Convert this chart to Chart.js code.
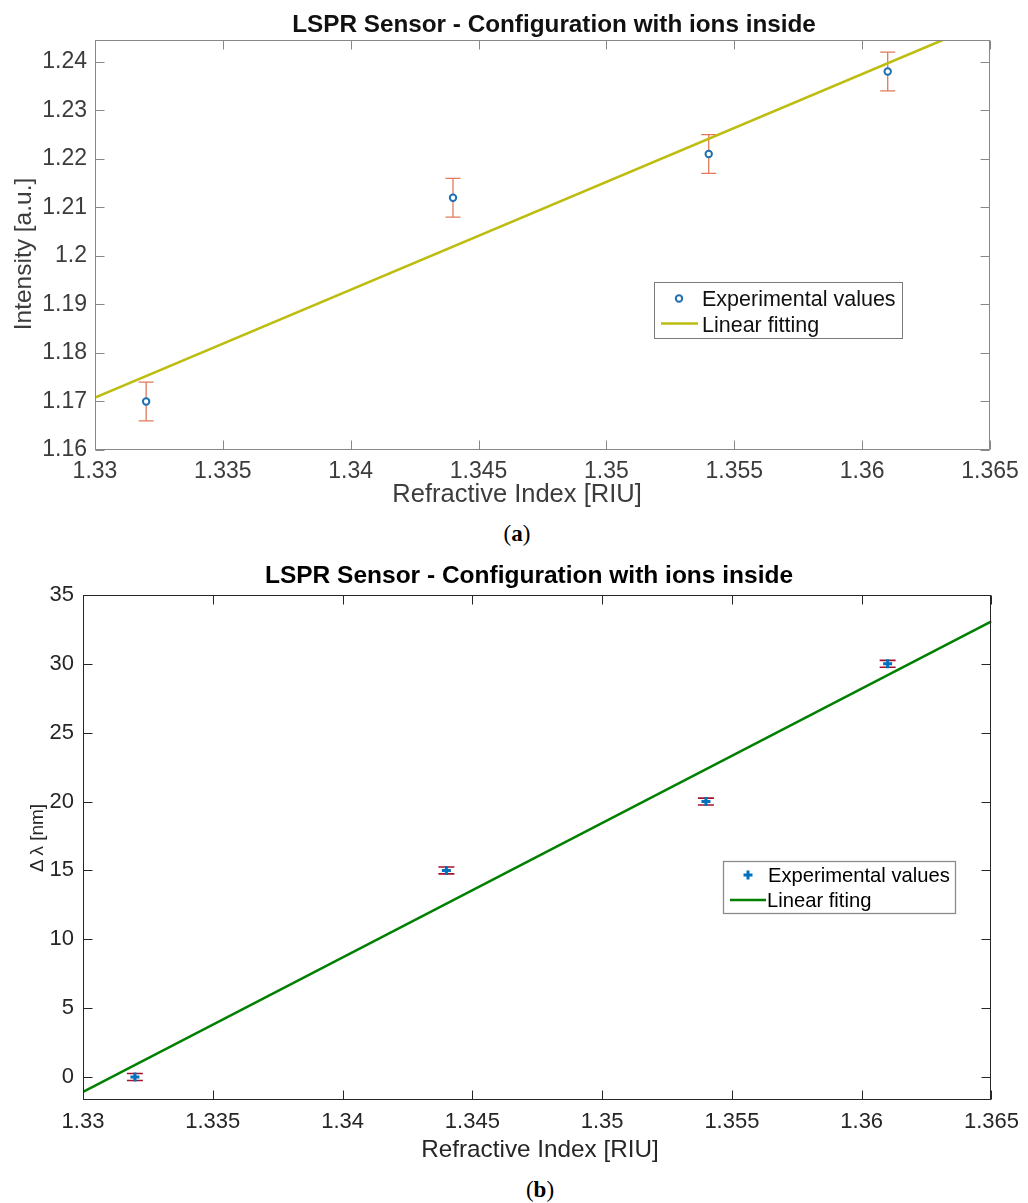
<!DOCTYPE html>
<html><head><meta charset="utf-8">
<script src="https://cdn.jsdelivr.net/npm/chart.js@4.4.0/dist/chart.umd.min.js"></script>
<style>
html,body{margin:0;padding:0;background:#fff;}
body{width:1028px;height:1203px;position:relative;overflow:hidden;}
canvas{position:absolute;left:0;}
#ca{top:0;}
#cb{top:550px;}
.cap{position:absolute;font-family:"Liberation Serif","DejaVu Serif",serif;font-size:23px;line-height:23px;color:#000;transform:translateX(-50%);white-space:nowrap;}
</style></head>
<body>
<canvas id="ca" width="1028" height="515"></canvas>
<canvas id="cb" width="1028" height="615"></canvas>
<div class="cap" style="left:517px;top:522px">(<b>a</b>)</div>
<div class="cap" style="left:540px;top:1178px">(<b>b</b>)</div>
<script>
// ---------- data ----------
const refractiveIndex = [1.332, 1.344, 1.354, 1.361];
const intensityValues = [1.170, 1.212, 1.221, 1.238];
const intensityErrors = [0.004, 0.004, 0.004, 0.004];
const intensityFitX = [1.33, 1.365];
const intensityFitY = [1.1708, 1.2486];
const shiftValues = [0, 15, 20, 30];
const shiftErrors = [0.25, 0.25, 0.25, 0.25];
const shiftFitX = [1.33, 1.365];
const shiftFitY = [-1.08, 33.09];
const xTickValues = [1.33, 1.335, 1.34, 1.345, 1.35, 1.355, 1.36, 1.365];
const xTickLabels = ['1.33', '1.335', '1.34', '1.345', '1.35', '1.355', '1.36', '1.365'];
const intensityTickValues = [1.16, 1.17, 1.18, 1.19, 1.20, 1.21, 1.22, 1.23, 1.24];
const intensityTickLabels = ['1.16', '1.17', '1.18', '1.19', '1.2', '1.21', '1.22', '1.23', '1.24'];
const shiftTickValues = [0, 5, 10, 15, 20, 25, 30, 35];
const shiftTickLabels = ['0', '5', '10', '15', '20', '25', '30', '35'];
const titleText = 'LSPR Sensor - Configuration with ions inside';
const xLabelText = 'Refractive Index [RIU]';

Chart.defaults.font.family = "'Liberation Sans', Arial, sans-serif";

// ---------- plugins ----------
const errorBarPlugin = {
  id: 'errorBars',
  beforeDatasetsDraw(chart, args, o) {
    const {ctx, scales: {x, y}} = chart;
    const ds = chart.data.datasets[0];
    ctx.save();
    ctx.strokeStyle = o.color; ctx.lineWidth = o.width;
    ds.data.forEach((p, i) => {
      const e = ds.errors[i];
      const px = x.getPixelForValue(p.x);
      const y1 = y.getPixelForValue(p.y - e);
      const y2 = y.getPixelForValue(p.y + e);
      ctx.beginPath();
      ctx.moveTo(px, y1); ctx.lineTo(px, y2);
      ctx.moveTo(px - o.cap, y1); ctx.lineTo(px + o.cap, y1);
      ctx.moveTo(px - o.cap, y2); ctx.lineTo(px + o.cap, y2);
      ctx.stroke();
    });
    ctx.restore();
  }
};

const framePlugin = {
  id: 'frame',
  afterDatasetsDraw(chart, args, o) {
    const {ctx, chartArea: a, scales: {x, y}} = chart;
    ctx.save();
    ctx.strokeStyle = o.color; ctx.lineWidth = o.width;
    const L = Math.round(a.left) + 0.5, R = Math.round(a.right) - 0.5;
    const T = Math.round(a.top) + 0.5, B = Math.round(a.bottom) - 0.5;
    ctx.strokeRect(L, T, R - L, B - T);
    ctx.beginPath();
    x.ticks.forEach(t => {
      const px = Math.round(x.getPixelForValue(t.value)) + 0.5;
      ctx.moveTo(px, B); ctx.lineTo(px, B - o.len);
      ctx.moveTo(px, T); ctx.lineTo(px, T + o.len);
    });
    y.ticks.forEach(t => {
      const py = Math.round(y.getPixelForValue(t.value)) + 0.5;
      ctx.moveTo(L, py); ctx.lineTo(L + o.len, py);
      ctx.moveTo(R, py); ctx.lineTo(R - o.len, py);
    });
    ctx.stroke();
    ctx.restore();
  }
};

const textPlugin = {
  id: 'texts',
  afterDraw(chart, args, o) {
    const ctx = chart.ctx;
    o.items.forEach(it => {
      ctx.save();
      ctx.font = it.font; ctx.fillStyle = it.color;
      ctx.textAlign = it.align || 'center'; ctx.textBaseline = 'alphabetic';
      ctx.translate(it.x, it.y);
      if (it.rotate) ctx.rotate(it.rotate);
      ctx.fillText(it.text, 0, 0);
      ctx.restore();
    });
  }
};

const boxLegendPlugin = {
  id: 'boxLegend',
  afterDraw(chart, args, o) {
    const ctx = chart.ctx;
    const ds = chart.data.datasets;
    ctx.save();
    ctx.fillStyle = '#fff';
    ctx.fillRect(o.x, o.y, o.w, o.h);
    ctx.strokeStyle = o.border; ctx.lineWidth = o.borderWidth;
    ctx.strokeRect(o.x + 0.5, o.y + 0.5, o.w, o.h);
    const p = ds[0];
    ctx.strokeStyle = p.borderColor; ctx.fillStyle = p.backgroundColor; ctx.lineWidth = p.borderWidth;
    ctx.beginPath();
    if (p.pointStyle === 'circle') {
      ctx.arc(o.markerX, o.row1, p.pointRadius, 0, Math.PI * 2);
      ctx.fill(); ctx.stroke();
    } else {
      const r = p.pointRadius;
      ctx.moveTo(o.markerX - r, o.row1); ctx.lineTo(o.markerX + r, o.row1);
      ctx.moveTo(o.markerX, o.row1 - r); ctx.lineTo(o.markerX, o.row1 + r);
      ctx.stroke();
    }
    const l = ds[1];
    ctx.strokeStyle = l.borderColor; ctx.lineWidth = l.borderWidth;
    ctx.beginPath(); ctx.moveTo(o.lineX1, o.row2); ctx.lineTo(o.lineX2, o.row2); ctx.stroke();
    ctx.fillStyle = o.color; ctx.font = o.font; ctx.textAlign = 'left'; ctx.textBaseline = 'alphabetic';
    ctx.fillText(p.label, o.textX, o.base1);
    ctx.fillText(l.label, o.textX2, o.base2);
    ctx.restore();
  }
};

function buildChart(id, cfg) {
  const pts = cfg.xs.map((x, i) => ({x: x, y: cfg.ys[i]}));
  const fit = cfg.fitX.map((x, i) => ({x: x, y: cfg.fitY[i]}));
  return new Chart(document.getElementById(id), {
    type: 'scatter',
    data: {
      datasets: [
        Object.assign({label: 'Experimental values', data: pts, errors: cfg.errs, showLine: false}, cfg.pointStyle),
        {label: cfg.fitLabel, data: fit, showLine: true, pointRadius: 0, borderColor: cfg.fitColor,
         backgroundColor: cfg.fitColor, borderWidth: cfg.fitWidth, clip: 0, tension: 0}
      ]
    },
    options: {
      responsive: false, animation: false, events: [],
      layout: {padding: cfg.padding},
      scales: {
        x: {
          type: 'linear', min: cfg.xMin, max: cfg.xMax,
          grid: {display: false, drawTicks: false, tickLength: 0}, border: {display: false},
          afterBuildTicks: s => { s.ticks = xTickValues.map(v => ({value: v})); },
          afterFit: s => { s.height = cfg.xAxisHeight; },
          ticks: {autoSkip: false, maxRotation: 0, padding: cfg.xTickPad, color: cfg.textColor,
                  font: {size: cfg.tickSize}, callback: (v, i) => xTickLabels[i]}
        },
        y: {
          type: 'linear', min: cfg.yMin, max: cfg.yMax,
          grid: {display: false, drawTicks: false, tickLength: 0}, border: {display: false},
          afterBuildTicks: s => { s.ticks = cfg.yTicks.map(v => ({value: v})); },
          afterFit: s => { s.width = cfg.yAxisWidth; },
          ticks: {autoSkip: false, padding: cfg.yTickPad, color: cfg.textColor,
                  font: {size: cfg.tickSize}, callback: (v, i) => cfg.yTickLabels[i]}
        }
      },
      plugins: {
        legend: {display: false}, title: {display: false}, tooltip: {enabled: false},
        errorBars: cfg.errorBars,
        frame: cfg.frame,
        texts: {items: cfg.texts},
        boxLegend: cfg.legend
      }
    },
    plugins: [errorBarPlugin, framePlugin, textPlugin, boxLegendPlugin]
  });
}

// ---------- chart (a) ----------
buildChart('ca', {
  xs: refractiveIndex, ys: intensityValues, errs: intensityErrors,
  fitX: intensityFitX, fitY: intensityFitY, fitLabel: 'Linear fitting',
  fitColor: '#bdbd10', fitWidth: 2.6,
  pointStyle: {pointStyle: 'circle', pointRadius: 3.2, borderWidth: 2, borderColor: '#1f6fb4', backgroundColor: '#ffffff'},
  xMin: 1.33, xMax: 1.365, yMin: 1.16, yMax: 1.2445,
  yTicks: intensityTickValues, yTickLabels: intensityTickLabels,
  padding: {left: 0, top: 40, right: 38, bottom: 25},
  xAxisHeight: 40, yAxisWidth: 95, xTickPad: 8, yTickPad: 8,
  tickSize: 23, textColor: '#3c3c3c',
  errorBars: {color: '#e07a5a', width: 1.3, cap: 7.5},
  frame: {color: '#888888', width: 1, len: 9},
  texts: [
    {text: titleText, x: 554, y: 32, font: 'bold 24.3px "Liberation Sans", Arial, sans-serif', color: '#111'},
    {text: xLabelText, x: 517, y: 502, font: '25.5px "Liberation Sans", Arial, sans-serif', color: '#3c3c3c'},
    {text: 'Intensity [a.u.]', x: 31, y: 254, rotate: -Math.PI / 2, font: '24.5px "Liberation Sans", Arial, sans-serif', color: '#3c3c3c'}
  ],
  legend: {x: 654, y: 282, w: 248, h: 56, border: '#7a7a7a', borderWidth: 1,
           markerX: 679, row1: 298.5, row2: 323.5, lineX1: 661, lineX2: 698,
           textX: 702, textX2: 702, base1: 306, base2: 332,
           font: '21.5px "Liberation Sans", Arial, sans-serif', color: '#111'}
});

// ---------- chart (b) ----------
buildChart('cb', {
  xs: refractiveIndex, ys: shiftValues, errs: shiftErrors,
  fitX: shiftFitX, fitY: shiftFitY, fitLabel: 'Linear fiting',
  fitColor: '#008000', fitWidth: 2.6,
  pointStyle: {pointStyle: 'cross', pointRadius: 4.5, borderWidth: 3, borderColor: '#0072BD', backgroundColor: '#0072BD'},
  xMin: 1.33, xMax: 1.365, yMin: -1.67, yMax: 35,
  yTicks: shiftTickValues, yTickLabels: shiftTickLabels,
  padding: {left: 0, top: 45, right: 36, bottom: 25},
  xAxisHeight: 40, yAxisWidth: 83, xTickPad: 9, yTickPad: 9,
  tickSize: 22, textColor: '#262626',
  errorBars: {color: '#A2142F', width: 1.6, cap: 8},
  frame: {color: '#262626', width: 1, len: 9},
  texts: [
    {text: titleText, x: 529, y: 33, font: 'bold 24.5px "Liberation Sans", Arial, sans-serif', color: '#000'},
    {text: xLabelText, x: 540, y: 607, font: '24.3px "Liberation Sans", Arial, sans-serif', color: '#262626'},
    {text: '\u0394\u2009\u03BB [nm]', x: 43, y: 288, rotate: -Math.PI / 2, font: '19px "Liberation Sans", Arial, sans-serif', color: '#262626'}
  ],
  legend: {x: 723, y: 311, w: 232, h: 52, border: '#8c8c8c', borderWidth: 1.3,
           markerX: 748, row1: 325, row2: 350, lineX1: 730, lineX2: 766,
           textX: 768, textX2: 767, base1: 332, base2: 357,
           font: '20.2px "Liberation Sans", Arial, sans-serif', color: '#000'}
});
</script>
</body></html>
